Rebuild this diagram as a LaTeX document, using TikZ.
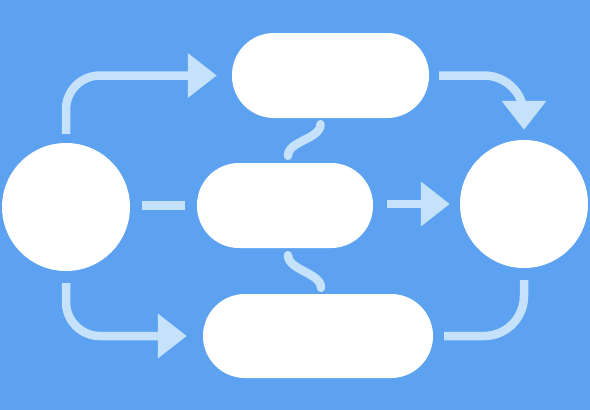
\documentclass[tikz,border=0pt]{standalone}
\usepackage{tikz}
\usetikzlibrary{arrows.meta}
\definecolor{bgblue}{RGB}{93,162,240}
\definecolor{linkblue}{RGB}{198,226,251}

\begin{document}
\begin{tikzpicture}[x=1pt,y=-1pt,>={Triangle[length=29pt,width=43pt]},
                    link/.style={draw=linkblue,line width=8.5pt}]
  \tikzstyle{ball}=[circle,fill=white,draw=none,minimum size=128pt,inner sep=0pt]
  \tikzstyle{pill}=[rectangle,rounded corners=42pt,fill=white,draw=none,
                    minimum height=85pt,inner sep=0pt]

  \fill[bgblue] (0,0) rectangle (590,410);

  \node[ball] (L) at (66,207) {};
  \node[ball] (R) at (524,204) {};
  \node[pill,minimum width=197pt] (T) at (330.5,75.5) {};
  \node[pill,minimum width=176pt] (M) at (285,205.5) {};
  \node[pill,minimum width=230pt,minimum height=84pt] (B) at (318,336) {};

  % outer routes
  \draw[link,->,rounded corners=34pt,shorten <=9pt,shorten >=15pt] (L.north) |- (T.west);
  \draw[link,->,rounded corners=40pt,shorten <=10pt,shorten >=10pt] (T.east) -| (R.north);
  \draw[link,->,rounded corners=34pt,shorten <=12pt,shorten >=16pt] (L.south) |- (B.west);
  \draw[link,rounded corners=40pt,shorten <=11pt,shorten >=12pt] (B.east) -| (R.south);

  % middle row
  \draw[link,shorten <=12pt,shorten >=12pt] (M.west -| L.east) -- (M.west);
  \draw[link,->,shorten <=14pt,shorten >=10pt] (R.west -| M.east) -- (R.west);

  % wavy ties
  \draw[link,line cap=round] ([xshift=-10pt,yshift=-6pt]T.south)
        .. controls +(0,15) and +(0,-15) .. ([xshift=3pt,yshift=7pt]M.north);
  \draw[link,line cap=round] ([xshift=3pt,yshift=-7pt]M.south)
        .. controls +(0,15) and +(0,-15) .. ([xshift=3pt,yshift=6pt]B.north);
\end{tikzpicture}
\end{document}
